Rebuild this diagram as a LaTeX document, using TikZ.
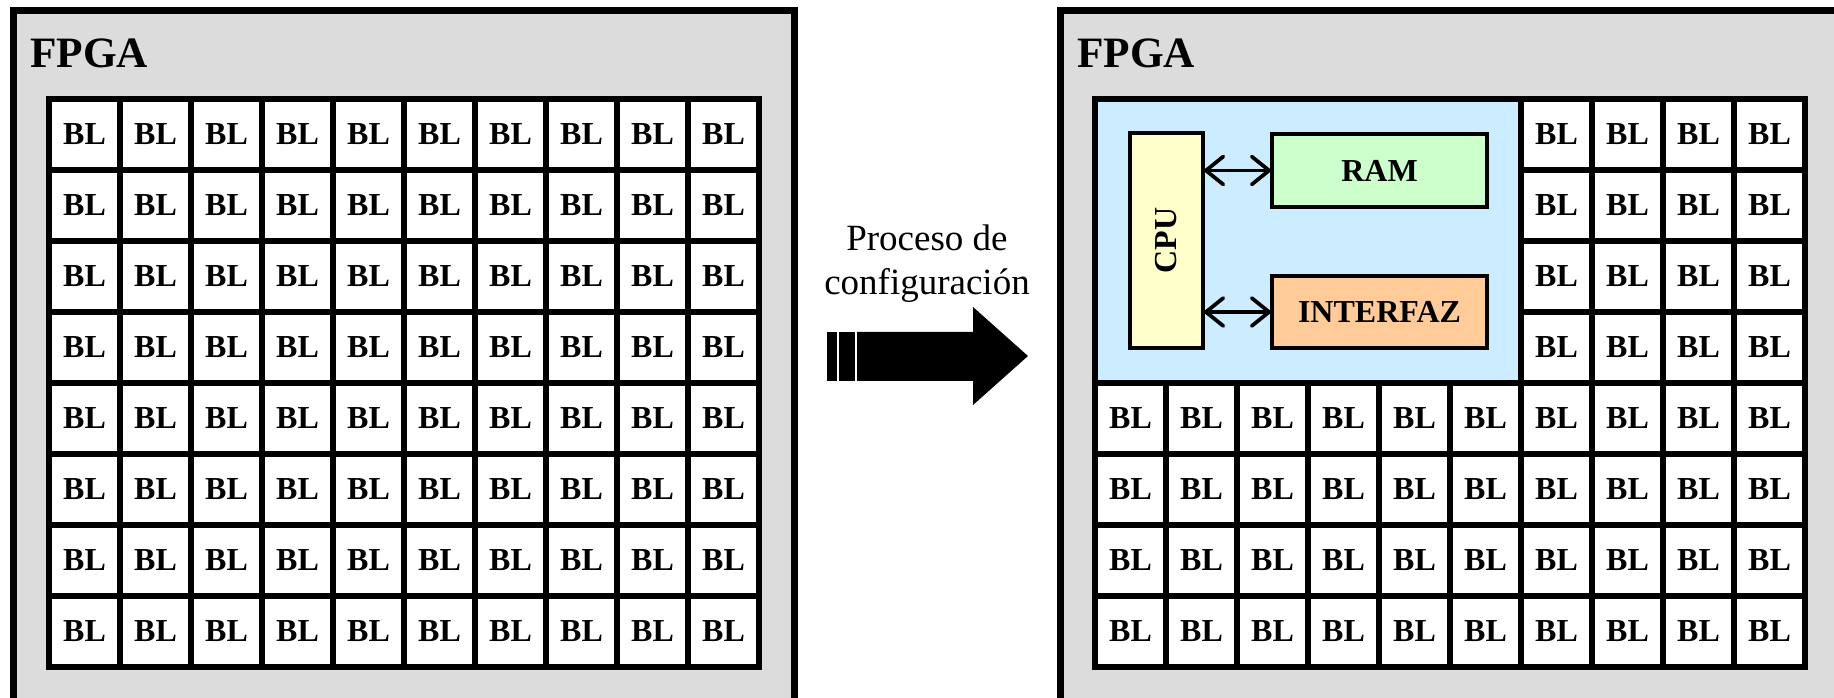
\documentclass[tikz,border=0pt]{standalone}
\usepackage{fontspec}
\setmainfont{Liberation Serif}
\usetikzlibrary{arrows.meta}
\definecolor{fpgagray}{HTML}{DCDCDC}
\definecolor{coreblue}{HTML}{CCECFF}
\definecolor{cpuyellow}{HTML}{FFFFCC}
\definecolor{ramgreen}{HTML}{CCFFCC}
\definecolor{ioorange}{HTML}{FFCC99}
\begin{document}
\begin{tikzpicture}[x=0.75pt, y=-0.75pt,
    chip/.style={draw, line width=5.25pt, fill=fpgagray},
    chiplabel/.style={anchor=base west, inner sep=0pt, font=\fontsize{32.5}{35}\selectfont\bfseries},
    blcell/.style={draw, line width=3.9pt, fill=white, minimum width=53.25pt, minimum height=53.25pt,
      inner sep=0pt, outer sep=0pt, font=\fontsize{24}{26}\selectfont\bfseries},
    unit/.style={draw, line width=3.2pt, inner sep=0pt, outer sep=0pt, font=\fontsize{24}{26}\selectfont\bfseries},
    link/.style={line width=2.8pt, {Straight Barb[length=13pt,width=21pt,line cap=round]}-{Straight Barb[length=13pt,width=21pt,line cap=round]}},
    caption/.style={anchor=base, inner sep=0pt, font=\fontsize{27.75}{32}\selectfont}]
  \useasboundingbox (0,0) rectangle (1834,698);
  \clip (0,0) rectangle (1834,698);

  % FPGA before configuration
  \draw[chip] (13,11) rectangle (794,740);
  \node[chiplabel] (fpga-a) at (30,68) {FPGA};
  \foreach \r in {0,...,7}
    \foreach \c in {0,...,9}
      \node[blcell] (a-\r-\c) at ({84.5+71*\c},{134.5+71*\r}) {BL};

  % configuration arrow
  \node[caption] (proc) at (927,251) {Proceso de};
  \node[caption] (conf) at (927,295) {configuración};
  \fill (827,332) rectangle (837,381);
  \fill (839,332) rectangle (855,381);
  \fill (857,332) -- (973,332) -- (973,307) -- (1028,356) -- (973,405) -- (973,381) -- (857,381) -- cycle;

  % FPGA after configuration
  \draw[chip] (1060,11) rectangle (1841,740);
  \node[chiplabel] (fpga-b) at (1077,68) {FPGA};
  \draw[line width=3.9pt, fill=coreblue] (1095,99) rectangle (1521,383);
  \foreach \r in {0,...,3}
    \foreach \c in {6,...,9}
      \node[blcell] (b-\r-\c) at ({1130.5+71*\c},{134.5+71*\r}) {BL};
  \foreach \r in {4,...,7}
    \foreach \c in {0,...,9}
      \node[blcell] (b-\r-\c) at ({1130.5+71*\c},{134.5+71*\r}) {BL};

  \node[unit, fill=cpuyellow, minimum width=54.75pt, minimum height=161.25pt] (cpu) at (1166.5,240.5) {\rotatebox{90}{CPU}};
  \node[unit, fill=ramgreen, minimum width=161.25pt, minimum height=54.75pt] (ram) at (1379.5,170.5) {RAM};
  \node[unit, fill=ioorange, minimum width=161.25pt, minimum height=54pt] (io) at (1379.5,312) {INTERFAZ};
  \draw[link] (cpu.east |- ram.west) -- (ram.west);
  \draw[link] (cpu.east |- io.west) -- (io.west);
\end{tikzpicture}
\end{document}
